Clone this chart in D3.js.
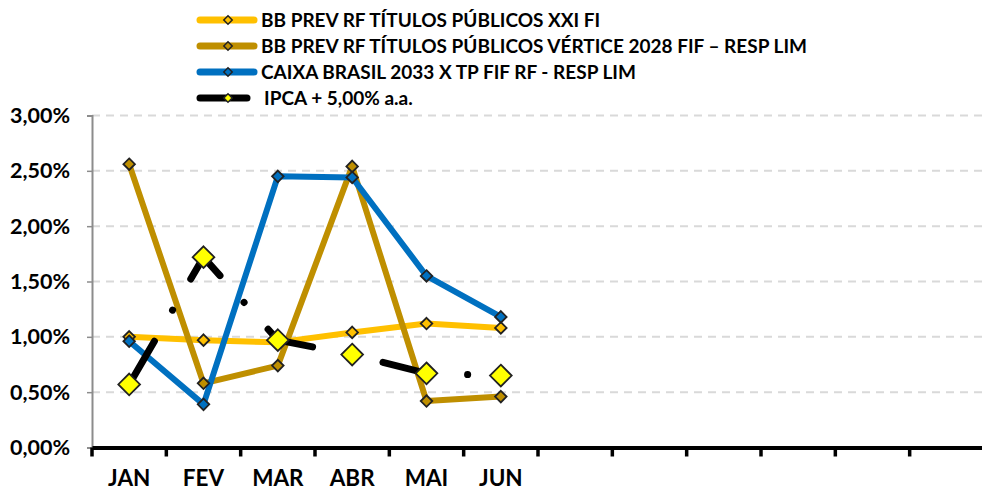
<!DOCTYPE html>
<html>
<head>
<meta charset="utf-8">
<script src="https://cdn.jsdelivr.net/npm/d3@7"></script>
<style>
  body { margin: 0; background: #fff; }
  text { font-family: Lato, "Open Sans", sans-serif; font-weight: bold; }
</style>
</head>
<body>
<div class="chart"></div>
<script>
// months on the x axis (12 slots, labels only where there is data)
const months = ['JAN', 'FEV', 'MAR', 'ABR', 'MAI', 'JUN', '', '', '', '', '', ''];
const yTicks = [0, 0.005, 0.01, 0.015, 0.02, 0.025, 0.03];

const seriesNames = [
    'BB PREV RF TÍTULOS PÚBLICOS XXI FI',
    'BB PREV RF TÍTULOS PÚBLICOS VÉRTICE 2028 FIF – RESP LIM',
    'CAIXA BRASIL 2033 X TP FIF RF - RESP LIM',
    'IPCA + 5,00% a.a.'
];
const bbXXI = [0.0100, 0.0097, 0.0095, 0.0104, 0.0112, 0.0108];
const bbVertice = [0.0256, 0.0058, 0.0074, 0.0254, 0.0042, 0.0046];
const caixa2033 = [0.0096, 0.0039, 0.0245, 0.0244, 0.0155, 0.0118];
const ipca = [0.0057, 0.0172, 0.0097, 0.0084, 0.0067, 0.0065];

const colors = ['#FFC000', '#BF8F00', '#0070C0', '#000000'];

const width = 982;
const height = 492;
const margin = {top: 115, right: 0, bottom: 45, left: 92};

const svg = d3.select('.chart')
    .append('svg')
    .attr('width', width)
    .attr('height', height)

const x = d3.scaleBand()
    .domain(d3.range(12))
    .range([margin.left, margin.left + 892])
const y = d3.scaleLinear()
    .domain([0, 0.03])
    .range([447.5, 115.5])

const fmt = v => (v * 100).toFixed(2).replace('.', ',') + '%';

// gridlines
svg.append('g')
    .selectAll('line')
    .data(yTicks.slice(1))
    .enter()
    .append('line')
        .attr('x1', margin.left)
        .attr('x2', width)
        .attr('y1', d => y(d))
        .attr('y2', d => y(d))
        .attr('stroke', '#D9D9D9')
        .attr('stroke-width', 2)
        .attr('stroke-dasharray', '8,6')

// y axis
const yAxis = svg.append('g')
    .attr('transform', 'translate(' + margin.left + ',0)')
    .call(d3.axisLeft(y).tickValues(yTicks).tickFormat(fmt).tickSize(5).tickPadding(17))
yAxis.select('.domain').attr('stroke', '#8C8C8C').attr('stroke-width', 2)
yAxis.selectAll('.tick line').attr('stroke', '#8C8C8C').attr('stroke-width', 1.5)
yAxis.selectAll('text').attr('font-size', '21.5px').attr('fill', '#000')

// x axis
const xAxis = svg.append('g')
    .attr('transform', 'translate(0,' + y(0) + ')')
    .call(d3.axisBottom(x).tickFormat(i => months[i]).tickSize(0).tickPadding(23))
xAxis.select('.domain').attr('stroke', '#000').attr('stroke-width', 4)
xAxis.selectAll('text').attr('font-size', '22.5px').attr('fill', '#000')
svg.append('g')
    .selectAll('line')
    .data(d3.range(13))
    .enter()
    .append('line')
        .attr('x1', d => margin.left + d * x.step())
        .attr('x2', d => margin.left + d * x.step())
        .attr('y1', y(0))
        .attr('y2', y(0) + 9)
        .attr('stroke', '#000')
        .attr('stroke-width', 3.5)

const cx = i => x(i) + x.bandwidth() / 2;
const line = d3.line().x((d, i) => cx(i)).y(d => y(d));

const allSeries = [bbXXI, bbVertice, caixa2033, ipca];
const drawOrder = [0, 1, 2];

drawOrder.forEach(k => {
    svg.append('path')
        .datum(allSeries[k])
        .attr('d', line)
        .attr('fill', 'none')
        .attr('stroke', colors[k])
        .attr('stroke-width', 6)
        .attr('stroke-linejoin', 'round')
})
drawOrder.forEach(k => {
    svg.append('g')
        .selectAll('path')
        .data(allSeries[k])
        .enter()
        .append('path')
            .attr('d', d3.symbol(d3.symbolDiamond2, 85))
            .attr('transform', (d, i) => 'translate(' + cx(i) + ',' + y(d) + ')')
            .attr('fill', colors[k])
            .attr('stroke', '#222')
            .attr('stroke-width', 1.8)
})

// IPCA line: long dash dot
svg.append('path')
    .datum(ipca)
    .attr('d', line)
    .attr('fill', 'none')
    .attr('stroke', '#000')
    .attr('stroke-width', 7)
    .attr('stroke-linecap', 'round')
    .attr('stroke-dasharray', '50,36,0.1,36')
svg.append('g')
    .selectAll('path')
    .data(ipca)
    .enter()
    .append('path')
        .attr('d', d3.symbol(d3.symbolDiamond2, 300))
        .attr('transform', (d, i) => 'translate(' + cx(i) + ',' + y(d) + ')')
        .attr('fill', '#FFFF00')
        .attr('stroke', '#222')
        .attr('stroke-width', 1.8)

// legend
const legendY = [20, 46, 72, 98];
const legend = svg.append('g')
    .selectAll('g')
    .data(seriesNames)
    .enter()
    .append('g')
        .attr('transform', (d, i) => 'translate(0,' + legendY[i] + ')')
legend.append('line')
    .attr('x1', 200)
    .attr('x2', (d, i) => i === 3 ? 247 : 254)
    .attr('stroke', (d, i) => colors[i])
    .attr('stroke-width', 7)
    .attr('stroke-linecap', 'round')
legend.append('path')
    .attr('d', d3.symbol(d3.symbolDiamond2, 45))
    .attr('transform', 'translate(228,0)')
    .attr('fill', (d, i) => i === 3 ? '#FFFF00' : colors[i])
    .attr('stroke', '#222')
    .attr('stroke-width', 1.5)
legend.append('text')
    .attr('x', (d, i) => i === 3 ? 264 : 261)
    .attr('dy', '0.35em')
    .attr('font-size', '19px')
    .text(d => d)
</script>
</body>
</html>
